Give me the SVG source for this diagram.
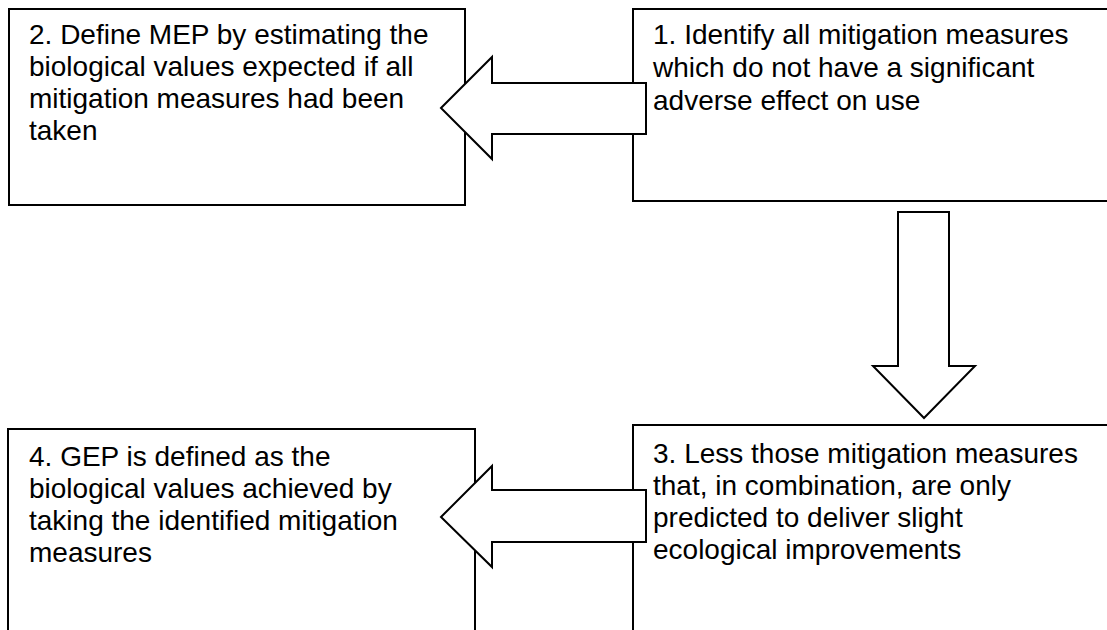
<svg xmlns="http://www.w3.org/2000/svg" width="1107" height="630" viewBox="0 0 1107 630">
<style>
.box{fill:#fff;stroke:#000;stroke-width:2}
.arr{fill:#fff;stroke:#000;stroke-width:2;stroke-linejoin:miter}
.t{font-family:"Liberation Sans",Arial,sans-serif;font-size:28px;fill:#000}
</style>
<rect width="1107" height="630" fill="#fff"/>
<g id="node2">
<rect class="box" x="9" y="9" width="456" height="196"/>
<text class="t"><tspan x="29" y="44">2. Define MEP by estimating the</tspan><tspan x="29" y="76">biological values expected if all</tspan><tspan x="29" y="108">mitigation measures had been</tspan><tspan x="29" y="140">taken</tspan></text>
</g>
<g id="node1">
<rect class="box" x="633" y="9" width="490" height="192"/>
<text class="t"><tspan x="653" y="44">1. Identify all mitigation measures</tspan><tspan x="653" y="77">which do not have a significant</tspan><tspan x="653" y="110">adverse effect on use</tspan></text>
</g>
<g id="node4">
<rect class="box" x="8" y="429" width="467" height="220"/>
<text class="t"><tspan x="29" y="466">4. GEP is defined as the</tspan><tspan x="29" y="498">biological values achieved by</tspan><tspan x="29" y="530">taking the identified mitigation</tspan><tspan x="29" y="562">measures</tspan></text>
</g>
<g id="node3">
<rect class="box" x="633" y="425" width="490" height="220"/>
<text class="t"><tspan x="653" y="463">3. Less those mitigation measures</tspan><tspan x="653" y="495">that, in combination, are only</tspan><tspan x="653" y="527">predicted to deliver slight</tspan><tspan x="653" y="559">ecological improvements</tspan></text>
</g>
<g id="connectors">
<polygon class="arr" points="441,108 492,57 492,83 646,83 646,134 492,134 492,159"/>
<polygon class="arr" points="898,212 949,212 949,366 975,366 924,418 873,366 898,366"/>
<polygon class="arr" points="441,517 492,466 492,490 646,490 646,542 492,542 492,567"/>
</g>
</svg>
